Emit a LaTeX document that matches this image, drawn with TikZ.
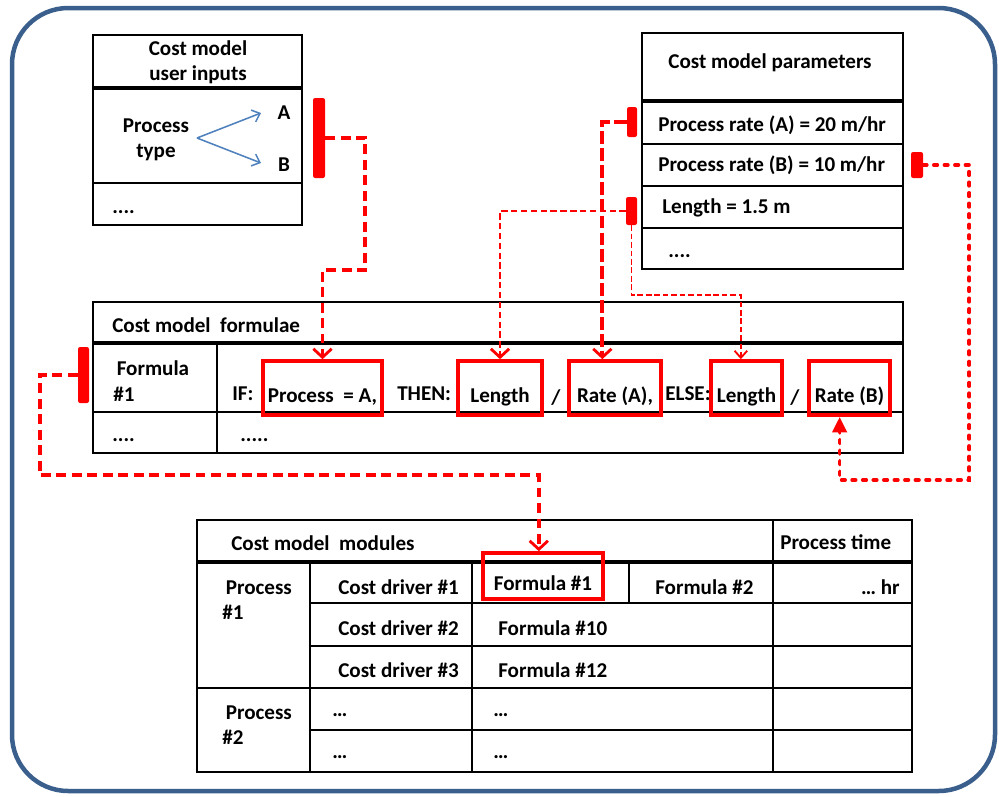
\documentclass[tikz,border=0pt]{standalone}
\usepackage{fontspec}
\setmainfont{Carlito}
\usetikzlibrary{arrows.meta,positioning,fit,calc}
\definecolor{frameblue}{RGB}{58,95,140}
\definecolor{pickblue}{RGB}{79,129,189}
\newcommand{\pxl}{0.025cm}

\begin{document}
\begin{tikzpicture}[x=0.025cm, y=-0.025cm,
  every node/.style={font=\fontsize{15}{18}\selectfont\bfseries, inner sep=0pt},
  txt/.style={anchor=west},
  grid/.style={line width=1.2pt},
  sep/.style={line width=2.8pt},
  hilite/.style={draw=red, line width=2.6pt, text height=20pt, text depth=0pt},
  bar/.style={fill=red, rounded corners=1.5pt},
  vhead/.style={-{Straight Barb[length=6pt, width=13pt, line width=2pt]}},
  link/.style={red, line width=2.8pt, dash pattern=on 7pt off 4pt, vhead},
  ratelink/.style={red, line width=2.8pt, dash pattern=on 9pt off 3pt, vhead},
  lenlink/.style={red, line width=2pt, dash pattern=on 4.5pt off 2.5pt, vhead},
  thinlink/.style={red, line width=1.3pt, dash pattern=on 4pt off 2pt,
    -{Straight Barb[length=5pt, width=9pt, line width=1.3pt]}},
  dotlink/.style={red, line width=2.6pt, line cap=round, dash pattern=on 2.5pt off 5pt,
    -{Triangle[length=11pt, width=10pt]}}]
  \useasboundingbox (0,0) rectangle (999,796);

  % Frame
  \draw[frameblue, line width=3.2pt, rounded corners=40pt] (12,8) rectangle (995,791);

  % Cost model user inputs
  \draw[grid] (93,35) rectangle (302,225);
  \draw[sep] (93,88) -- (302,88);
  \draw[grid] (93,183) -- (302,183);
  \node[align=center] (inTitle) at (198,62) {Cost model\\user inputs};
  \node[align=center] (inType) at (156,140) {Process\\type};
  \node (optA) at (284,113) {A};
  \node (optB) at (284,165) {B};
  \node[txt] (inMore) at (112,212) {....};
  \coordinate (fork) at (197,138);
  \coordinate (tipA) at (261,113);
  \coordinate (tipB) at (261,163);
  \draw[pickblue, line width=1.1pt, -{Straight Barb[length=5pt, width=9pt]}] (fork) -- (tipA);
  \draw[pickblue, line width=1.1pt, -{Straight Barb[length=5pt, width=9pt]}] (fork) -- (tipB);

  % Cost model parameters
  \draw[grid] (642,33) rectangle (903,269);
  \draw[sep] (642,101) -- (903,101);
  \foreach \y in {144,186,228}
    \draw[grid] (642,\y) -- (903,\y);
  \node (parTitle) at (770,63) {Cost model parameters};
  \node[txt] (parA) at (658,125) {Process rate (A) = 20 m/hr};
  \node[txt] (parB) at (658,165) {Process rate (B) = 10 m/hr};
  \node[txt] (parLen) at (662,208) {Length = 1.5 m};
  \node[txt] (parMore) at (668,256) {....};

  % Cost model formulae
  \draw[grid] (93,302) rectangle (903,453);
  \draw[sep] (93,343) -- (903,343);
  \draw[grid] (93,412) -- (903,412);
  \draw[grid] (217,343) -- (217,453);
  \node[txt] (fTitle) at (112,325) {Cost model\ \ formulae};
  \node[txt, align=left] (fName) at (113,381) {\,Formula\\\#1};
  \node[txt] (fIf) at (232,394) {IF:};
  \node[hilite, minimum width=119*\pxl, minimum height=54*\pxl] (boxProc) at (322.5,388) {Process\ \ = A,};
  \node[txt] (fThen) at (397,394) {THEN:};
  \node[hilite, minimum width=84*\pxl, minimum height=54*\pxl] (boxLen1) at (500,388) {Length};
  \node (fDiv1) at (556,398) {/};
  \node[hilite, minimum width=92*\pxl, minimum height=54*\pxl] (boxRateA) at (615,388) {Rate (A),};
  \node[txt] (fElse) at (665,394) {ELSE:};
  \node[hilite, minimum width=71*\pxl, minimum height=54*\pxl] (boxLen2) at (746.5,388) {Length};
  \node (fDiv2) at (795,398) {/};
  \node[hilite, minimum width=81*\pxl, minimum height=54*\pxl] (boxRateB) at (849.5,388) {Rate (B)};
  \node[txt] (fMore1) at (112,440) {....};
  \node[txt] (fMore2) at (240,440) {.....};

  % Cost model modules
  \draw[grid] (197,520) rectangle (912,772);
  \draw[sep] (197,562) -- (912,562);
  \draw[grid] (310,562) -- (310,772);
  \draw[grid] (472,562) -- (472,772);
  \draw[grid] (629,562) -- (629,603);
  \draw[grid] (773,520) -- (773,772);
  \foreach \y in {603,646,730}
    \draw[grid] (310,\y) -- (912,\y);
  \draw[grid] (197,688) -- (912,688);
  \node[txt] (mTitle) at (231,543) {Cost model\ \ modules};
  \node[txt] (mTime) at (780,542) {Process time};
  \node[txt, align=left] (mProc1) at (222,600) {\,Process\\\#1};
  \node[txt] (mDrv1) at (338,587) {Cost driver \#1};
  \node[hilite, minimum width=120*\pxl, minimum height=46*\pxl] (boxF1) at (543,576) {Formula \#1};
  \node[txt] (mF2) at (655,587) {Formula \#2};
  \node[anchor=east] (mHr) at (900,587) {\ldots\ hr};
  \node[txt] (mDrv2) at (338,628) {Cost driver \#2};
  \node[txt] (mF10) at (498,628) {Formula \#10};
  \node[txt] (mDrv3) at (338,670) {Cost driver \#3};
  \node[txt] (mF12) at (498,670) {Formula \#12};
  \node[txt, align=left] (mProc2) at (222,725) {\,Process\\\#2};
  \node[txt] (mDotsA) at (332,715) {\ldots};
  \node[txt] (mDotsB) at (493,715) {\ldots};
  \node[txt] (mDotsC) at (332,757) {\ldots};
  \node[txt] (mDotsD) at (493,757) {\ldots};

  % Red bars
  \node[bar, fit={(313,98) (325,178)}] (barType) {};
  \node[bar, fit={(627,107) (637,137)}] (barRateA) {};
  \node[bar, fit={(626,197) (637,225)}] (barLen) {};
  \node[bar, fit={(911,152) (923,178)}] (barRateB) {};
  \node[bar, fit={(78,347) (89,403)}] (barForm) {};

  % Links
  \draw[link] (barType.east) -- ++(40,0) -- ++(0,132) -| (boxProc.north);
  \draw[ratelink] (barRateA.west) -| ([xshift=-9pt]boxRateA.north);
  \draw[lenlink] (barLen.west) -| (boxLen1.north);
  \draw[thinlink] (barLen.south) -- ++(0,70) -| ([xshift=-4pt]boxLen2.north);
  \draw[dotlink] (barRateB.east) -- ++(46,0) -- ++(0,315) -| ([xshift=-7pt]boxRateB.south);
  \draw[link] (barForm.west) -- ++(-38,0) -- ++(0,100) -| ([xshift=-3pt]boxF1.north);
\end{tikzpicture}
\end{document}
